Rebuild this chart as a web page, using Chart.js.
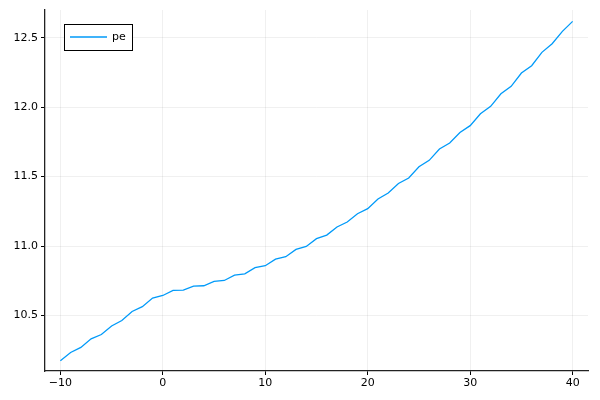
<!DOCTYPE html>
<html>
<head>
<meta charset="utf-8">
<script src="https://cdn.jsdelivr.net/npm/chart.js@4"></script>
<style>
  html, body { margin: 0; padding: 0; background: #fff; }
  #wrap { width: 600px; height: 400px; }
</style>
</head>
<body>
<div id="wrap"><canvas id="chart" width="600" height="400"></canvas></div>
<script>
const xValues = [];
for (let i = -10; i <= 40; i++) xValues.push(i);

const peValues = [
  10.174, 10.233, 10.270, 10.332, 10.363, 10.424, 10.464, 10.529, 10.563, 10.625,
  10.644, 10.680, 10.683, 10.712, 10.714, 10.745, 10.752, 10.790, 10.800, 10.844,
  10.858, 10.906, 10.923, 10.976, 10.997, 11.053, 11.079, 11.137, 11.173, 11.233,
  11.269, 11.339, 11.382, 11.451, 11.490, 11.571, 11.617, 11.699, 11.742, 11.818,
  11.867, 11.953, 12.006, 12.097, 12.150, 12.246, 12.299, 12.395, 12.457, 12.546,
  12.618,
];

const xTicks = [-10, 0, 10, 20, 30, 40];
const yTicks = [10.5, 11.0, 11.5, 12.0, 12.5];
const seriesLabel = 'pe';

const lineColor = '#009af9';
const font = { family: 'DejaVu Sans', size: 11 };

// legend box drawn inside the plot, like the GR backend does
const insideLegend = {
  id: 'insideLegend',
  afterDraw(chart) {
    const { ctx, chartArea } = chart;
    const x0 = chartArea.left + 19;
    const y0 = chartArea.top + 14;
    const w = 68;
    const h = 26;
    ctx.save();
    ctx.fillStyle = '#fff';
    ctx.fillRect(x0, y0, w, h);
    ctx.strokeStyle = '#000';
    ctx.lineWidth = 1;
    ctx.strokeRect(x0 + 0.5, y0 + 0.5, w, h);
    ctx.strokeStyle = lineColor;
    ctx.lineWidth = 1.5;
    ctx.beginPath();
    ctx.moveTo(x0 + 6, y0 + 13);
    ctx.lineTo(x0 + 43, y0 + 13);
    ctx.stroke();
    ctx.fillStyle = '#000';
    ctx.font = '11px "DejaVu Sans"';
    ctx.textBaseline = 'middle';
    ctx.fillText(chart.data.datasets[0].label, x0 + 48, y0 + 13.5);
    ctx.restore();
  },
};

const fmt = (v) => String(v).replace('-', '\u2212');

new Chart(document.getElementById('chart'), {
  type: 'line',
  data: {
    labels: xValues,
    datasets: [
      {
        label: seriesLabel,
        data: xValues.map((x, i) => ({ x, y: peValues[i] })),
        borderColor: lineColor,
        borderWidth: 1.3,
        pointRadius: 0,
        tension: 0,
        fill: false,
      },
    ],
  },
  options: {
    responsive: false,
    animation: false,
    layout: { padding: { left: 0, right: 12, top: 10, bottom: 0 } },
    plugins: {
      legend: { display: false },
      tooltip: { enabled: false },
    },
    scales: {
      x: {
        type: 'linear',
        min: -11.5,
        max: 41.5,
        afterBuildTicks: (scale) => { scale.ticks = xTicks.map((v) => ({ value: v })); },
        afterFit: (scale) => { scale.height = 29; },
        ticks: { color: '#000', font, padding: 2, maxRotation: 0, callback: (v) => fmt(v) },
        grid: { color: 'rgba(0,0,0,0.06)', tickColor: '#000', tickLength: 4 },
        border: { color: '#222', width: 1.3 },
      },
      y: {
        type: 'linear',
        min: 10.1,
        max: 12.7,
        afterBuildTicks: (scale) => { scale.ticks = yTicks.map((v) => ({ value: v })); },
        afterFit: (scale) => { scale.width = 45; },
        ticks: { color: '#000', font, padding: 3, callback: (v) => v.toFixed(1) },
        grid: { color: 'rgba(0,0,0,0.06)', tickColor: '#000', tickLength: 4 },
        border: { color: '#222', width: 1.3 },
      },
    },
  },
  plugins: [insideLegend],
});
</script>
</body>
</html>
